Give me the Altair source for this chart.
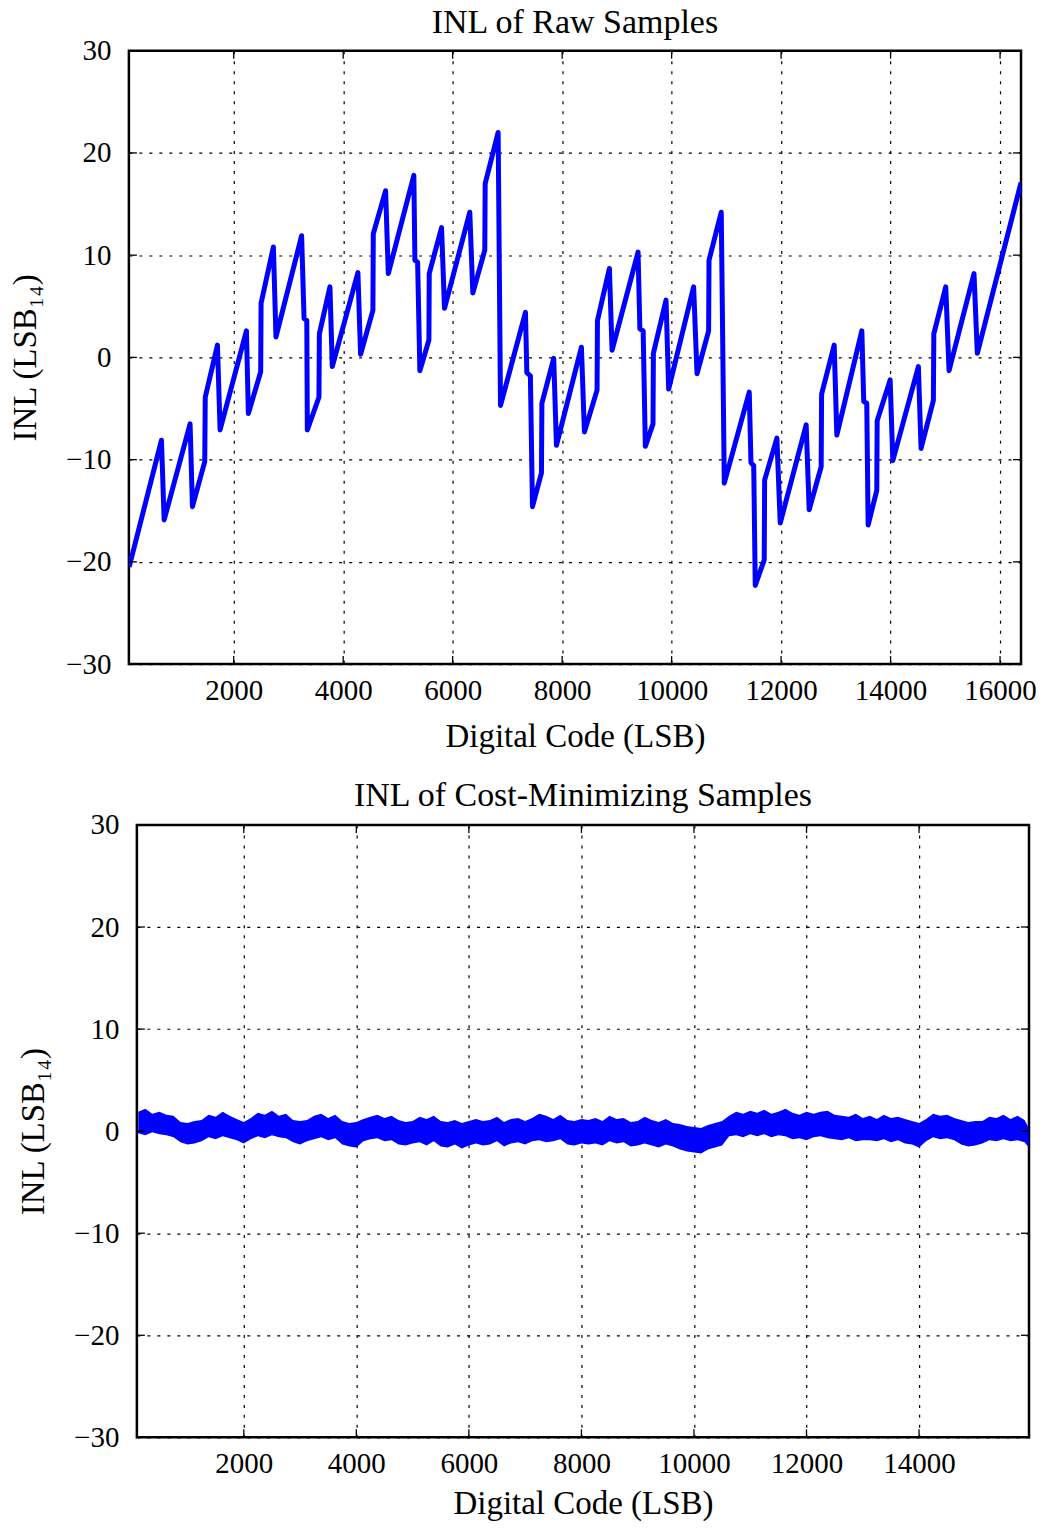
import altair as alt
import pandas as pd

FONT = "Liberation Serif"
BLUE = "#0000ff"

# ---------------- top panel: INL of raw samples (vertices)
raw_code = [90, 680, 729, 1203, 1246, 1471, 1480, 1703, 1751, 2232, 2268, 2493, 2500,
            2725, 2772, 3241, 3285, 3335, 3345, 3557, 3565, 3758, 3801, 4269, 4318,
            4543, 4550, 4775, 4824, 5291, 5310, 5360, 5401, 5566, 5572, 5797, 5851,
            6313, 6368, 6587, 6594, 6831, 6874, 7330, 7355, 7420, 7458, 7622, 7630,
            7846, 7896, 8352, 8407, 8638, 8645, 8863, 8912, 9387, 9420, 9480, 9520,
            9660, 9667, 9898, 9946, 10402, 10464, 10676, 10683, 10907, 10962, 11418,
            11450, 11500, 11528, 11692, 11699, 11923, 11984, 12458, 12513, 12732,
            12740, 12970, 13018, 13475, 13510, 13565, 13590, 13748, 13755, 13992,
            14041, 14508, 14557, 14782, 14790, 15008, 15068, 15524, 15585, 16383]
raw_inl = [-20.5, -8.1, -15.9, -6.5, -14.6, -10.2, -3.9, 1.2, -7.1, 2.6, -5.5, -1.4, 5.3,
           10.8, 2.0, 11.9, 3.8, 3.6, -7.1, -3.9, 2.3, 6.9, -0.9, 8.3, 0.3,
           4.6, 12.1, 16.3, 8.2, 17.8, 9.5, 9.3, -1.3, 1.7, 8.2, 12.7, 4.8,
           14.2, 6.3, 10.5, 17.0, 22.0, -4.7, 4.4, -1.5, -1.8, -14.6, -11.3, -4.5,
           -0.1, -8.6, 1.0, -7.3, -3.2, 3.6, 8.7, 0.7, 10.3, 2.8, 2.6, -8.7,
           -6.5, 0.4, 5.6, -3.1, 6.9, -1.6, 2.6, 9.5, 14.2, -12.3, -3.4,
           -10.3, -10.6, -22.3, -19.8, -12.0, -7.9, -16.2, -6.6, -14.9, -10.7,
           -3.6, 1.2, -7.6, 2.6, -4.3, -4.5, -16.4, -13.0, -6.2, -2.2,
           -10.1, -0.9, -8.9, -4.2, 2.3, 6.9, -1.3, 8.2, 0.4, 17.1]

# ---------------- bottom panel: INL of cost-minimizing samples (band envelope)
cm_code = list(range(125, 16000, 125)) + [15950]
cm_upper = [1.9, 2.2, 1.7, 1.9, 1.6, 1.5, 0.9, 0.8,
            1.0, 1.1, 1.6, 1.4, 1.9, 1.5, 1.2, 0.9,
            1.3, 1.8, 1.6, 2.0, 1.5, 1.7, 1.1, 1.0,
            1.1, 1.5, 1.7, 1.3, 1.6, 1.0, 0.8, 0.9,
            1.2, 1.4, 1.6, 1.3, 1.5, 1.1, 0.9, 1.0,
            1.4, 1.2, 1.5, 1.0, 0.9, 1.1, 0.8, 1.0,
            1.2, 1.0, 1.1, 1.4, 0.9, 1.2, 1.3, 1.0,
            1.3, 1.7, 1.5, 1.2, 1.6, 1.1, 1.0, 1.2,
            1.1, 1.3, 1.0, 1.5, 1.2, 1.3, 0.9, 1.0,
            1.4, 1.1, 0.9, 1.2, 0.8, 0.7, 0.5, 0.4,
            0.3, 0.6, 0.8, 1.0, 1.5, 1.9, 1.7, 2.0,
            1.8, 2.1, 1.7, 1.9, 2.2, 1.8, 1.6, 1.9,
            1.7, 1.9, 2.0, 1.6, 1.5, 1.4, 1.7, 1.3,
            1.5, 1.2, 1.6, 1.3, 1.4, 1.2, 1.0, 0.8,
            1.2, 1.7, 1.5, 1.6, 1.3, 1.1, 0.9, 1.0,
            1.0, 1.4, 1.3, 1.6, 1.2, 1.5, 1.1, 0.3]
cm_lower = [-0.2, -0.4, -0.1, -0.3, -0.4, -0.6, -1.1, -1.3,
            -1.2, -1.0, -0.6, -0.8, -0.5, -0.7, -0.9, -1.2,
            -0.8, -0.5, -0.7, -0.4, -0.6, -0.7, -1.1, -1.3,
            -1.0, -0.8, -0.6, -0.9, -0.7, -1.3, -1.5, -1.6,
            -1.0, -0.8, -0.7, -1.0, -0.9, -1.3, -1.4, -1.2,
            -1.1, -1.4, -1.0, -1.5, -1.6, -1.3, -1.7, -1.4,
            -1.2, -1.4, -1.3, -1.0, -1.5, -1.2, -1.1, -1.3,
            -1.0, -0.9, -1.1, -1.0, -0.8, -1.3, -1.4, -1.2,
            -1.3, -1.2, -1.4, -1.0, -1.2, -1.1, -1.5, -1.4,
            -1.2, -1.4, -1.6, -1.3, -1.5, -1.8, -2.0, -2.1,
            -2.2, -1.8, -1.6, -1.4, -0.5, -0.4, -0.6, -0.3,
            -0.5, -0.3, -0.6, -0.4, -0.5, -0.8, -0.7, -0.9,
            -0.6, -0.5, -0.7, -0.8, -0.9, -0.7, -1.0, -0.9,
            -0.9, -1.0, -0.8, -1.1, -0.9, -1.2, -1.3, -1.6,
            -1.0, -0.6, -0.8, -0.7, -0.9, -1.3, -1.5, -1.4,
            -1.2, -0.9, -1.0, -0.8, -1.0, -0.9, -1.1, -1.6]

y_ticks = [-30, -20, -10, 0, 10, 20, 30]
top_x_ticks = [2000, 4000, 6000, 8000, 10000, 12000, 14000, 16000]
bot_x_ticks = [2000, 4000, 6000, 8000, 10000, 12000, 14000]
top_title = "INL of Raw Samples"
bot_title = "INL of Cost-Minimizing Samples"

raw_df = pd.DataFrame({"code": raw_code, "inl": raw_inl})
cm_df = pd.DataFrame({"code": cm_code, "hi": cm_upper, "lo": cm_lower})
dummy = pd.DataFrame({"a": [0]})

W, H_TOP, H_BOT = 893, 614, 613
TICK = 8


def x_axis(values, title_y):
    return alt.Axis(values=values, format="d", grid=True, gridColor="black",
                    gridDash=[3, 7], gridWidth=1.2, gridOpacity=1, domain=False,
                    ticks=True, tickSize=0, labelPadding=12, labelFont=FONT,
                    labelFontSize=29, labelColor="black", title="Digital Code (LSB)",
                    titleFont=FONT, titleFontSize=33, titleFontWeight="normal",
                    titleColor="black", titleBaseline="alphabetic", titleY=title_y)


def y_axis(title_y):
    return alt.Axis(values=y_ticks, grid=True, gridColor="black",
                    gridDash=[3, 7], gridWidth=1.2, gridOpacity=1, domain=False,
                    ticks=True, tickSize=0, labelPadding=18, labelFont=FONT,
                    labelFontSize=29, labelColor="black", title="INL (LSB₁₄)",
                    titleFont=FONT, titleFontSize=33, titleFontWeight="normal",
                    titleColor="black", titleBaseline="middle", titleX=-103,
                    titleY=title_y)


def panel(df, mark, xdom, xticks, height, ycols, title, title_y, guard_left,
          guard_top, guard_bottom, xtitle_y):
    xs = alt.Scale(domain=xdom, nice=False, zero=False)
    ys = alt.Scale(domain=[-30, 30], nice=False)
    yf = ycols[0]
    main_enc = dict(
        x=alt.X("code:Q", scale=xs, axis=x_axis(xticks, xtitle_y)),
        y=alt.Y(f"{yf}:Q", scale=ys, axis=y_axis(height / 2)),
    )
    if len(ycols) > 1:
        main_enc["y2"] = f"{ycols[1]}:Q"
    main = mark.encode(**main_enc)

    xt_df = pd.DataFrame({"code": xticks})
    yt_df = pd.DataFrame({yf: y_ticks})
    tick_style = dict(color="black", size=TICK, thickness=1.3, opacity=1)
    top_ticks = alt.Chart(xt_df).mark_tick(orient="vertical", **tick_style).encode(
        x=alt.X("code:Q", scale=xs), y=alt.value(TICK / 2))
    bot_ticks = alt.Chart(xt_df).mark_tick(orient="vertical", **tick_style).encode(
        x=alt.X("code:Q", scale=xs), y=alt.value(height - TICK / 2))
    left_ticks = alt.Chart(yt_df).mark_tick(orient="horizontal", **tick_style).encode(
        y=alt.Y(f"{yf}:Q", scale=ys), x=alt.value(TICK / 2))
    right_ticks = alt.Chart(yt_df).mark_tick(orient="horizontal", **tick_style).encode(
        y=alt.Y(f"{yf}:Q", scale=ys), x=alt.value(W - TICK / 2))

    ttl = alt.Chart(dummy).mark_text(
        font=FONT, fontSize=34, color="black", align="center",
        baseline="alphabetic").encode(
        x=alt.value(W / 2), y=alt.value(title_y), text=alt.value(title))
    guard = alt.Chart(dummy).mark_rule(opacity=0).encode(
        x=alt.value(-guard_left), x2=alt.value(-guard_left + 1),
        y=alt.value(-guard_top), y2=alt.value(height + guard_bottom))
    return alt.layer(main, top_ticks, bot_ticks, left_ticks, right_ticks,
                     ttl, guard).properties(width=W, height=height)


def spacer():
    return alt.Chart(dummy).mark_rule(opacity=0).encode(
        x=alt.value(0), x2=alt.value(0), y=alt.value(0), y2=alt.value(1)
    ).properties(width=1, height=1, view=alt.ViewBackground(strokeOpacity=0))


top = panel(raw_df,
            alt.Chart(raw_df).mark_line(color=BLUE, strokeWidth=5,
                                        strokeJoin="round", clip=True),
            [85, 16383], top_x_ticks, H_TOP, ["inl"], top_title, -18,
            120, 46, 100, 82)

bottom = panel(cm_df,
               alt.Chart(cm_df).mark_area(color=BLUE, opacity=1, clip=True),
               [100, 15954], bot_x_ticks, H_BOT, ["hi", "lo"], bot_title, -19,
               128, 50, 0, 76)

top_row = alt.hconcat(spacer(), top, spacing=0)
bot_row = alt.hconcat(spacer(), bottom, spacing=0)

chart = alt.vconcat(top_row, bot_row, spacing=7).properties(
    padding={"top": -6, "left": -2, "right": -2, "bottom": 0}, background="white"
).configure_view(stroke="black", strokeWidth=2.5)

chart.save("out.html", embed_options={"renderer": "svg", "actions": False})
